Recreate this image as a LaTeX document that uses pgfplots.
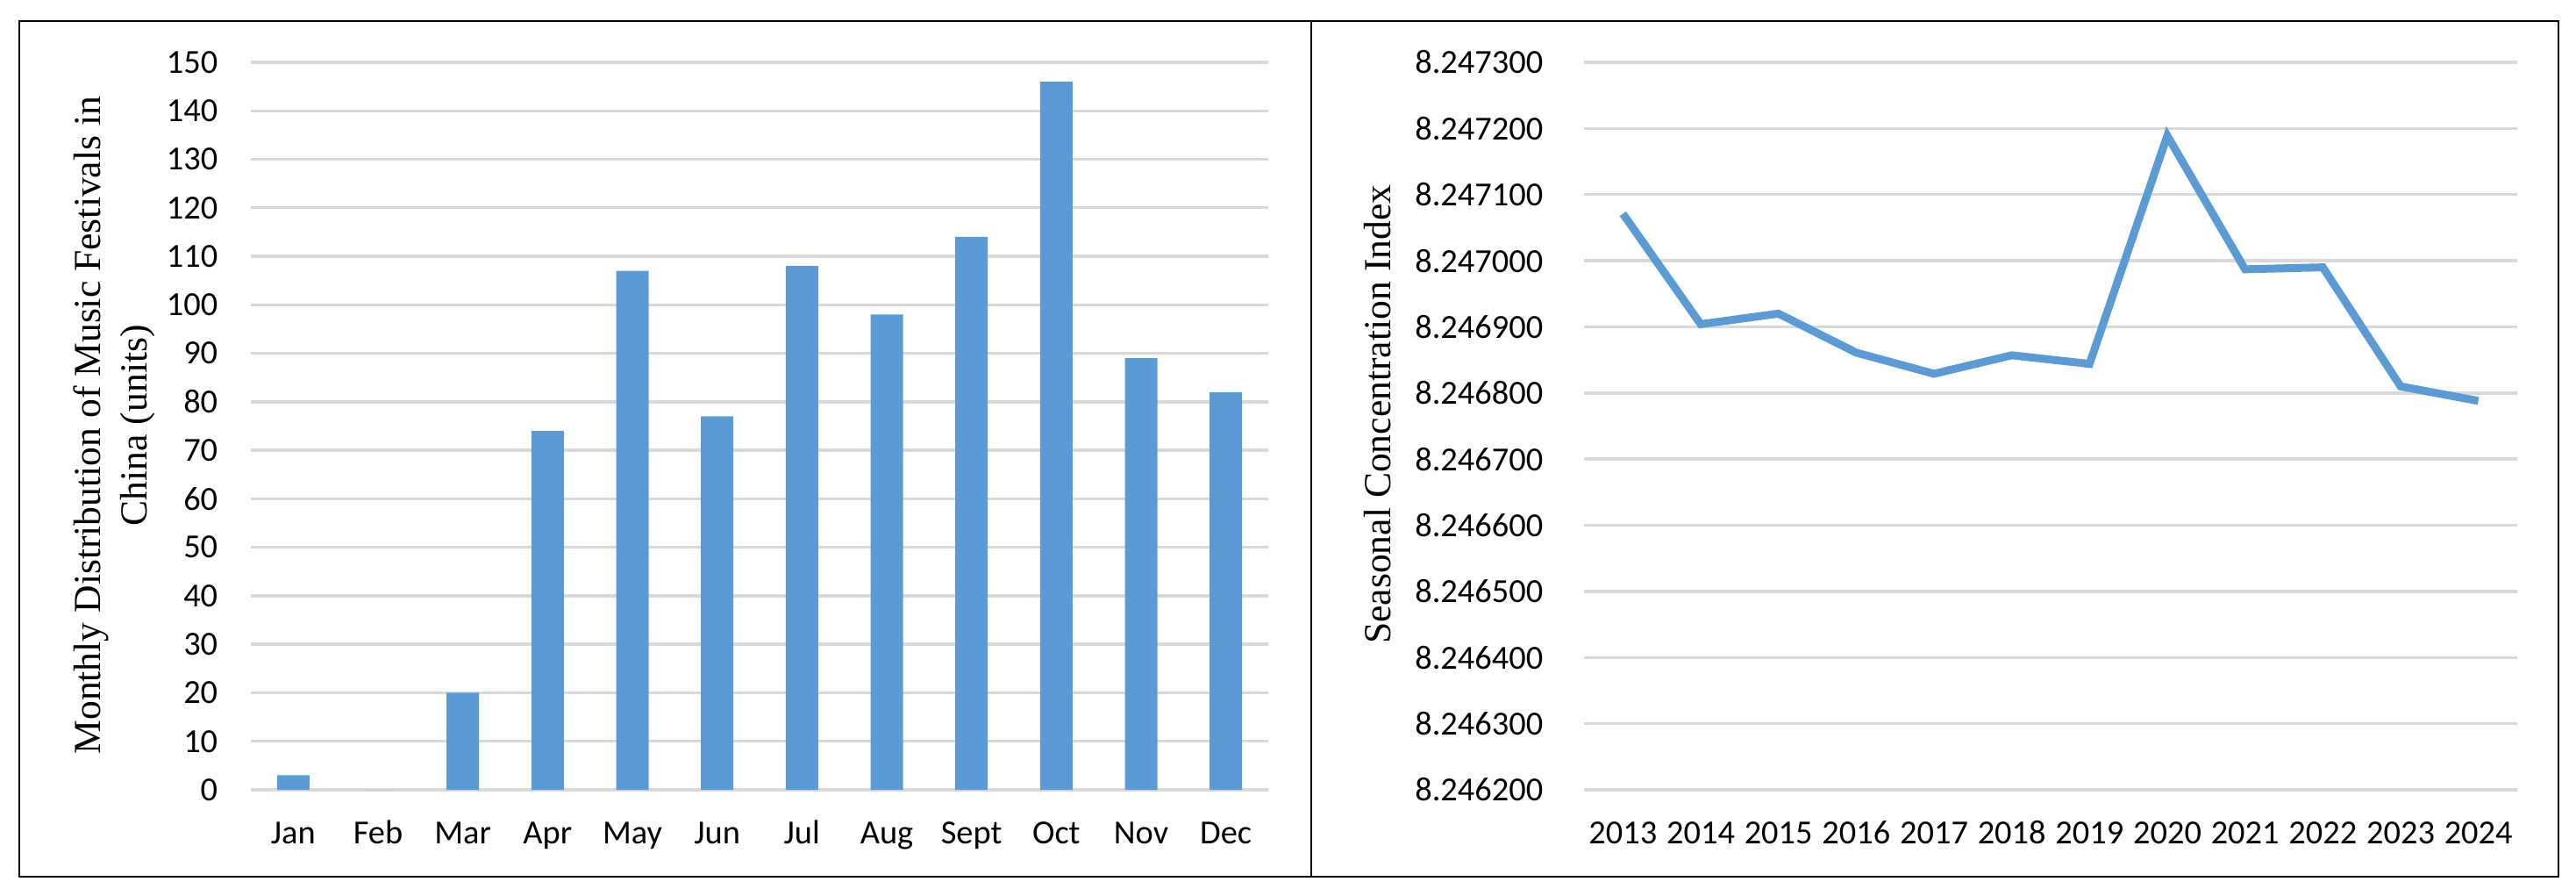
\documentclass[border=0pt]{standalone}
\usepackage{pgfplots}
\pgfplotsset{compat=1.18}
\usepackage{pgfplotstable}
\usepackage{fontspec}
\setmainfont{Liberation Serif}
\newfontfamily\calibri{Carlito}
\definecolor{barblue}{HTML}{5B9BD5}
\definecolor{gridgray}{HTML}{D9D9D9}

% Monthly distribution of music festivals (units)
\pgfplotstableread{
m v
0 3
1 0
2 20
3 74
4 107
5 77
6 108
7 98
8 114
9 146
10 89
11 82
}\months

% Seasonal concentration index; micro = millionths above 8.246200
\pgfplotstableread{
x year index micro
0 2013 8.247071 871
1 2014 8.246904 704
2 2015 8.246920 720
3 2016 8.246861 661
4 2017 8.246829 629
5 2018 8.246857 657
6 2019 8.246844 644
7 2020 8.247189 989
8 2021 8.246987 787
9 2022 8.246990 790
10 2023 8.246810 610
11 2024 8.246788 588
}\sci

\pgfplotsset{
  mystyle/.style={
    scale only axis,
    height=207.25bp,
    xmin=-0.5, xmax=11.5,
    axis line style={draw=none},
    major tick length=0pt,
    tick style={draw=none},
    ymajorgrids,
    grid style={gridgray, line width=0.85bp},
    xtick={0,1,...,11},
    /pgf/number format/assume math mode=true,
    tick label style={font=\fontsize{9.6bp}{11.5bp}\calibri, inner sep=0pt},
    xticklabel style={anchor=base, yshift=-15.25bp},
    label style={font=\fontsize{10.9bp}{13.2bp}\selectfont, inner sep=0pt, align=center},
  }
}

\begin{document}
\begin{tikzpicture}
\path[use as bounding box] (0,0) rectangle (734.25bp,255.25bp);
\draw[line width=0.55bp] (5.5bp,5.5bp) rectangle (729.25bp,249.25bp);
\draw[line width=0.55bp] (373.75bp,5.5bp) -- (373.75bp,249.25bp);

\begin{axis}[mystyle,
  at={(71.5bp,30.25bp)}, anchor=south west,
  width=290bp,
  ymin=0, ymax=150,
  ytick={0,10,...,150},
  yticklabel style={anchor=east, xshift=-9.25bp},
  xticklabels={Jan,Feb,Mar,Apr,May,Jun,Jul,Aug,Sept,Oct,Nov,Dec},
  ylabel={Monthly Distribution of Music Festivals in\\China (units)},
  ylabel style={at={(rel axis cs:-0.134,0.501)}, anchor=center},
]
\addplot[ybar, bar width=9.25bp, fill=barblue, draw=none] table[x=m, y=v] {\months};
\end{axis}

\begin{axis}[mystyle,
  at={(451.5bp,30.25bp)}, anchor=south west,
  width=266bp,
  ymin=0, ymax=1100,
  ytick={0,100,...,1100},
  yticklabels={8.246200,8.246300,8.246400,8.246500,8.246600,8.246700,8.246800,8.246900,8.247000,8.247100,8.247200,8.247300},
  yticklabel style={anchor=east, xshift=-11.5bp},
  xticklabels={2013,2014,2015,2016,2017,2018,2019,2020,2021,2022,2023,2024},
  ylabel={Seasonal Concentration Index},
  ylabel style={at={(rel axis cs:-0.2213,0.516)}, anchor=center},
]
\addplot[barblue, line width=2.25bp, mark=none] table[x=x, y=micro] {\sci};
\end{axis}
\end{tikzpicture}
\end{document}
